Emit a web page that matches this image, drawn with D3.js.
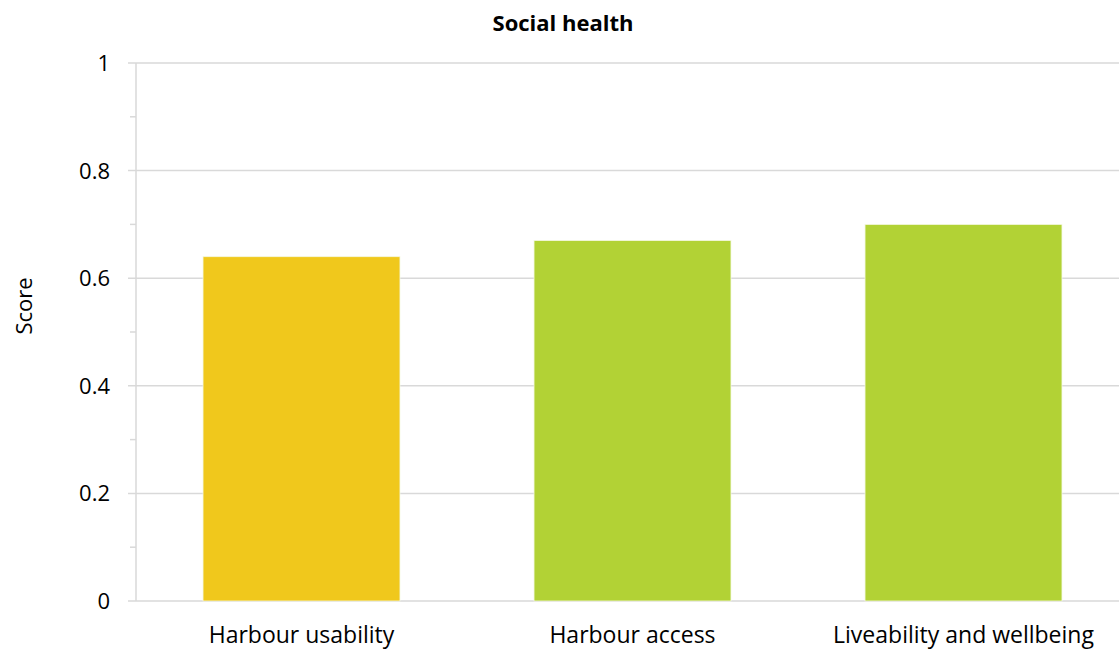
<!DOCTYPE html>
<html>
<head>
<meta charset="utf-8">
<script src="https://cdn.jsdelivr.net/npm/d3@7"></script>
<style>
  html, body { margin: 0; padding: 0; background: #fff; }
  svg { display: block; font-family: "Open Sans", Lato, sans-serif; }
</style>
</head>
<body>
<svg id="chart" width="1119" height="652"></svg>
<script>
// Social health scores by category
const categories = ["Harbour usability", "Harbour access", "Liveability and wellbeing"];
const scores = [0.64, 0.67, 0.70];
const barColors = ["#F0C81C", "#B2D235", "#B2D235"];
const majorTicks = [0, 0.2, 0.4, 0.6, 0.8, 1];
const minorTicks = [0.1, 0.3, 0.5, 0.7, 0.9];

const svg = d3.select("#chart");
const plotLeft = 136, plotRight = 1129, plotTop = 63, plotBottom = 601;

const x = d3.scaleBand().domain(categories).range([plotLeft, plotRight]).paddingInner(0.405).paddingOuter(0.2025);
const y = d3.scaleLinear().domain([0, 1]).range([plotBottom, plotTop]);

const grid = "#d9d9d9";

// horizontal gridlines
svg.append("g").selectAll("line").data(majorTicks).join("line")
  .attr("x1", plotLeft - 8).attr("x2", 1119)
  .attr("y1", d => y(d)).attr("y2", d => y(d))
  .attr("stroke", grid).attr("stroke-width", 1.5);

// minor tick marks on the value axis
svg.append("g").selectAll("line").data(minorTicks).join("line")
  .attr("x1", plotLeft - 6).attr("x2", plotLeft)
  .attr("y1", d => y(d)).attr("y2", d => y(d))
  .attr("stroke", grid).attr("stroke-width", 1.5);

// value axis line
svg.append("line").attr("x1", plotLeft).attr("x2", plotLeft)
  .attr("y1", y(1)).attr("y2", y(0))
  .attr("stroke", grid).attr("stroke-width", 1.5);

// tick labels
svg.append("g").selectAll("text").data(majorTicks).join("text")
  .attr("x", plotLeft - 26).attr("y", d => y(d) + 8)
  .attr("text-anchor", "end")
  .attr("font-size", 22).attr("fill", "#000")
  .text(d => d3.format("~g")(d));

// bars
svg.append("g").selectAll("rect").data(categories).join("rect")
  .attr("x", d => x(d)).attr("width", x.bandwidth())
  .attr("y", (d, i) => y(scores[i]))
  .attr("height", (d, i) => y(0) - y(scores[i]))
  .attr("fill", (d, i) => barColors[i])
  .attr("stroke", "#f4f8e0").attr("stroke-width", 0.8);

// category labels
svg.append("g").selectAll("text").data(categories).join("text")
  .attr("x", d => x(d) + x.bandwidth() / 2).attr("y", 643)
  .attr("text-anchor", "middle")
  .attr("font-size", 23).attr("fill", "#000")
  .text(d => d);

// axis title
svg.append("text")
  .attr("transform", "translate(32,306) rotate(-90)")
  .attr("text-anchor", "middle")
  .attr("font-size", 22).attr("fill", "#000")
  .text("Score");

// chart title
svg.append("text")
  .attr("x", 563).attr("y", 31)
  .attr("text-anchor", "middle")
  .attr("font-size", 22).attr("font-weight", "bold").attr("fill", "#000")
  .text("Social health");
</script>
</body>
</html>
